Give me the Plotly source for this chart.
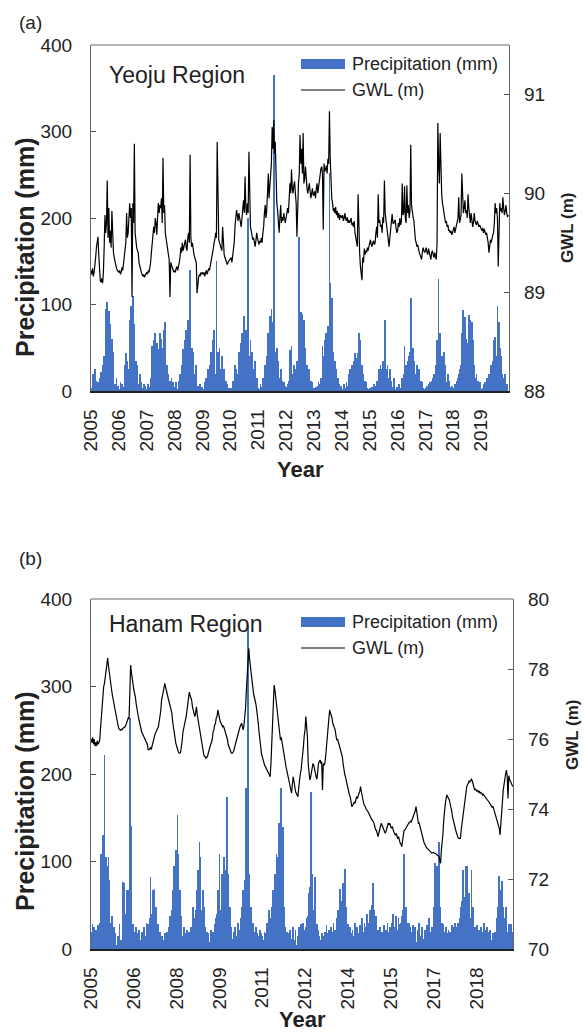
import numpy as np
import pandas as pd
import plotly.graph_objects as go

# ---------------- data ----------------
# time step: 1/36 of a year (about 10 days), starting 2005-01-01
year_labels_a = ["2005", "2006", "2007", "2008", "2009", "2010", "2011", "2012",
                 "2013", "2014", "2015", "2016", "2017", "2018", "2019"]
year_labels_b = ["2005", "2006", "2008", "2009", "2011", "2012", "2014", "2015",
                 "2017", "2018"]

precip_yeoju = [
    3, 0, 2, 20, 4, 25, 0, 12, 5, 10, 0, 15, 3, 22, 5, 30, 8, 40, 15, 95, 20, 103, 10, 93, 25, 78, 8, 60, 5, 45, 0, 8, 2, 15, 0, 6,
    2, 0, 10, 0, 8, 3, 5, 0, 30, 44, 5, 35, 10, 25, 82, 12, 98, 20, 110, 8, 78, 15, 35, 5, 30, 2, 8, 20, 0, 10, 3, 0, 8, 0, 6, 2,
    0, 2, 8, 0, 5, 15, 3, 52, 10, 59, 5, 67, 12, 55, 8, 48, 15, 67, 10, 60, 20, 50, 71, 10, 80, 25, 30, 5, 20, 0, 12, 3, 15, 0, 10, 0,
    5, 0, 10, 0, 2, 12, 0, 20, 5, 30, 10, 48, 8, 59, 15, 71, 12, 82, 20, 45, 140, 10, 50, 15, 45, 5, 20, 8, 30, 0, 6, 0, 4, 8, 0, 5,
    3, 0, 2, 10, 0, 15, 3, 25, 5, 30, 8, 45, 10, 59, 12, 71, 20, 15, 150, 10, 45, 8, 50, 12, 25, 40, 5, 15, 25, 0, 12, 0, 8, 3, 0, 2,
    4, 0, 3, 12, 0, 10, 30, 5, 25, 8, 20, 45, 10, 55, 15, 67, 12, 75, 87, 20, 70, 10, 55, 200, 15, 40, 59, 8, 45, 5, 25, 0, 35, 3, 15, 0,
    3, 0, 2, 8, 0, 5, 15, 3, 10, 30, 5, 40, 8, 67, 15, 87, 10, 95, 80, 15, 365, 85, 10, 45, 50, 8, 35, 5, 15, 25, 0, 12, 3, 10, 0, 6,
    5, 0, 8, 0, 12, 47, 3, 52, 5, 20, 30, 3, 25, 8, 35, 10, 28, 178, 15, 91, 20, 89, 10, 82, 15, 50, 5, 30, 8, 15, 25, 0, 12, 0, 10, 3,
    3, 0, 2, 5, 0, 6, 10, 3, 8, 15, 5, 52, 10, 40, 59, 8, 67, 12, 75, 20, 252, 125, 15, 108, 10, 45, 8, 35, 5, 25, 0, 15, 3, 8, 0, 6,
    2, 0, 3, 8, 0, 4, 10, 0, 6, 20, 3, 25, 5, 30, 8, 35, 10, 44, 8, 38, 15, 44, 67, 10, 59, 5, 30, 3, 20, 0, 12, 0, 10, 3, 0, 2,
    3, 0, 2, 5, 0, 4, 8, 0, 6, 12, 3, 10, 25, 5, 30, 8, 25, 35, 10, 30, 82, 12, 25, 30, 5, 15, 25, 0, 12, 5, 0, 15, 4, 0, 2, 5,
    2, 0, 8, 3, 0, 6, 15, 0, 20, 52, 5, 30, 8, 35, 40, 10, 45, 108, 15, 40, 50, 8, 35, 5, 20, 30, 3, 10, 25, 0, 12, 0, 10, 3, 0, 2,
    3, 0, 6, 0, 8, 0, 10, 3, 12, 0, 15, 20, 5, 25, 30, 59, 10, 130, 50, 67, 15, 40, 30, 8, 45, 20, 30, 5, 10, 20, 0, 12, 5, 0, 6, 2,
    4, 0, 8, 0, 12, 3, 15, 20, 5, 25, 30, 67, 10, 94, 15, 85, 8, 60, 55, 12, 88, 20, 82, 10, 80, 8, 59, 30, 5, 15, 20, 0, 12, 3, 10, 0,
    2, 0, 3, 8, 0, 10, 3, 12, 15, 0, 20, 5, 25, 30, 5, 35, 59, 8, 62, 40, 10, 98, 15, 80, 50, 8, 40, 20, 5, 15, 10, 20, 0, 8, 3, 0,
]

gwl_yeoju = [
    89.22, 89.18, 89.24, 89.16, 89.2, 89.26, 89.35, 89.45, 89.5, 89.56, 89.38, 89.2, 89.12, 89.1, 89.14, 89.09, 89.2, 89.45, 89.78, 89.6, 89.7, 90.13, 89.55, 89.85, 89.5, 89.62, 89.45, 89.82, 89.48, 89.4, 89.35, 89.3, 89.26, 89.24, 89.22, 89.2,
    89.2, 89.22, 89.18, 89.2, 89.25, 89.22, 89.3, 89.35, 89.4, 89.5, 89.8, 89.55, 89.6, 89.88, 89.9, 89.75, 89.85, 88.95, 89.9, 89.7, 90.5, 89.6, 89.5, 89.45, 89.42, 89.4, 89.3, 89.26, 89.22, 89.2, 89.18, 89.16, 89.18, 89.15, 89.17, 89.2,
    89.2, 89.18, 89.22, 89.2, 89.24, 89.3, 89.4, 89.5, 89.56, 89.66, 89.6, 89.75, 89.7, 89.58, 89.75, 89.9, 89.8, 89.88, 89.85, 89.95, 89.7, 90.36, 89.8, 89.88, 89.6, 89.53, 89.48, 89.42, 89.38, 89.33, 88.95, 89.3, 89.28, 89.25, 89.22, 89.2,
    89.22, 89.2, 89.24, 89.26, 89.22, 89.25, 89.3, 89.35, 89.45, 89.4, 89.5, 89.42, 89.46, 89.5, 89.53, 89.45, 89.42, 89.55, 89.6, 89.5, 90.39, 89.55, 89.46, 89.5, 89.4, 89.38, 89.35, 89.33, 89.3, 88.99, 89.12, 89.15, 89.18, 89.16, 89.2, 89.18,
    89.2, 89.18, 89.2, 89.16, 89.2, 89.22, 89.18, 89.2, 89.24, 89.22, 89.26, 89.3, 89.33, 89.38, 89.44, 89.5, 89.53, 89.6, 89.55, 90.52, 89.58, 89.53, 89.5, 89.48, 89.45, 89.42, 89.66, 89.4, 89.38, 89.35, 89.33, 89.3, 89.28, 89.3, 89.32, 89.33,
    89.33, 89.35, 89.3, 89.36, 89.4, 89.5, 89.66, 89.75, 89.83, 89.78, 89.72, 89.8, 89.76, 89.7, 89.66, 89.75, 89.85, 89.93, 89.8, 90.17, 89.85, 89.78, 89.9, 89.8, 90.42, 89.75, 89.66, 89.62, 89.58, 89.53, 89.55, 89.5, 89.46, 89.52, 89.6, 89.55,
    89.5, 89.48, 89.52, 89.5, 89.55, 89.5, 89.6, 89.66, 89.8, 89.88, 89.75, 89.83, 90.0, 90.2, 89.95, 90.05, 90.15, 90.3, 90.67, 90.45, 90.74, 90.4, 90.52, 90.0, 89.9, 89.83, 89.7, 89.6, 89.75, 89.88, 89.7, 89.76, 89.72, 89.8, 89.75, 89.7,
    89.75, 89.8, 89.85, 89.8, 89.95, 90.1, 90.0, 90.24, 90.05, 90.0, 90.08, 90.12, 90.0, 89.9, 89.56, 89.95, 90.1, 90.2, 90.59, 90.3, 90.45, 90.2, 90.61, 90.1, 90.15, 90.27, 90.1, 90.05, 90.0, 90.08, 90.1, 90.02, 89.95, 90.0, 90.05, 89.98,
    89.98, 90.02, 89.95, 90.05, 90.1, 90.0, 90.08, 90.15, 90.2, 90.25, 90.27, 90.2, 89.63, 90.3, 90.22, 90.25, 90.28, 90.2, 90.35, 90.3, 90.83, 90.35, 90.1, 89.95, 89.9, 89.82, 89.85, 89.8, 89.86, 89.78, 89.82, 89.75, 89.8, 89.73, 89.78, 89.75,
    89.75, 89.78, 89.72, 89.75, 89.8, 89.74, 89.72, 89.76, 89.7, 89.73, 89.7, 89.72, 89.75, 89.68, 89.7, 89.66, 89.72, 89.6, 89.55, 89.53, 89.46, 89.99, 89.5, 89.4, 89.26, 89.19, 89.12, 89.35, 89.3, 89.44, 89.38, 89.42, 89.4, 89.45, 89.42, 89.46,
    89.5, 89.53, 89.48, 89.46, 89.5, 89.52, 89.48, 89.5, 89.6, 89.66, 89.55, 89.99, 89.7, 89.73, 89.66, 89.68, 89.6, 89.76, 89.7, 90.13, 89.8, 89.73, 89.65, 89.6, 89.5, 89.46, 89.55, 89.66, 89.72, 89.79, 89.7, 89.69, 89.72, 89.73, 89.65, 89.6,
    89.62, 89.7, 89.66, 89.75, 89.68, 89.72, 90.1, 89.78, 89.8, 90.07, 89.75, 89.7, 90.08, 89.8, 89.88, 89.75, 89.82, 90.49, 89.88, 89.8, 89.76, 89.73, 89.6, 89.53, 89.5, 89.46, 89.48, 89.42, 89.4, 89.38, 89.35, 89.33, 89.4, 89.45, 89.42, 89.4,
    89.42, 89.45, 89.4, 89.38, 89.44, 89.4, 89.36, 89.33, 89.4, 89.42, 89.38, 89.35, 89.4, 89.36, 89.33, 89.5, 90.71, 90.3, 90.1, 90.61, 90.2, 89.99, 89.9, 89.85, 89.8, 89.73, 89.7, 89.72, 89.66, 89.68, 89.62, 89.63, 89.6, 89.62, 89.58, 89.6,
    89.62, 89.66, 89.6, 89.64, 89.68, 89.7, 89.75, 89.96, 89.7, 89.73, 89.78, 90.2, 89.85, 89.8, 89.85, 89.93, 89.8, 89.83, 89.75, 89.99, 89.85, 89.73, 89.7, 89.8, 89.72, 89.66, 89.7, 89.8, 89.72, 89.7, 89.68, 89.72, 89.7, 89.66, 89.68, 89.66,
    89.66, 89.62, 89.65, 89.6, 89.64, 89.62, 89.58, 89.6, 89.55, 89.5, 89.4, 89.45, 89.53, 89.5, 89.55, 89.58, 89.6, 89.7, 89.9, 89.8, 89.85, 89.75, 89.26, 89.8, 89.9, 89.82, 89.85, 89.8, 89.96, 89.85, 89.78, 89.82, 89.88, 89.8, 89.76, 89.78,
]

precip_hanam = [
    20, 3, 29, 5, 25, 0, 22, 8, 10, 28, 5, 30, 105, 109, 15, 130, 45, 222, 100, 105, 20, 95, 105, 79, 12, 30, 38, 5, 15, 25, 0, 18, 3, 5, 15, 0,
    29, 5, 10, 0, 77, 15, 75, 8, 40, 67, 10, 67, 25, 264, 141, 67, 12, 29, 5, 20, 0, 25, 3, 18, 0, 22, 5, 10, 20, 0, 12, 25, 3, 15, 30, 5,
    29, 5, 35, 82, 15, 40, 67, 10, 69, 25, 48, 5, 15, 29, 0, 20, 3, 8, 15, 0, 10, 18, 0, 12, 20, 3, 25, 5, 38, 12, 45, 67, 20, 95, 30, 113,
    80, 153, 109, 25, 67, 12, 38, 5, 15, 25, 0, 18, 3, 22, 0, 15, 20, 3, 25, 10, 35, 48, 8, 35, 45, 67, 15, 90, 30, 122, 105, 20, 45, 67, 15, 48,
    25, 3, 20, 0, 18, 5, 8, 22, 0, 10, 20, 5, 29, 35, 8, 40, 67, 15, 109, 45, 20, 86, 50, 12, 105, 25, 90, 30, 174, 86, 15, 48, 5, 25, 0, 12,
    20, 0, 25, 3, 15, 30, 0, 22, 8, 35, 48, 10, 67, 15, 79, 30, 184, 20, 370, 25, 86, 15, 48, 5, 30, 8, 20, 0, 25, 5, 18, 0, 15, 22, 3, 18,
    15, 3, 10, 20, 0, 18, 30, 5, 22, 45, 8, 35, 48, 12, 67, 20, 86, 25, 109, 30, 105, 144, 86, 25, 184, 30, 140, 48, 15, 25, 5, 20, 0, 18, 3, 22,
    12, 0, 8, 25, 3, 10, 22, 0, 5, 15, 25, 3, 20, 29, 5, 30, 8, 22, 0, 25, 35, 38, 12, 64, 71, 130, 180, 86, 20, 45, 25, 82, 15, 29, 5, 22,
    15, 3, 10, 18, 0, 8, 15, 20, 3, 28, 0, 18, 22, 5, 15, 25, 3, 20, 30, 8, 22, 5, 35, 25, 45, 12, 69, 40, 15, 55, 76, 20, 91, 40, 48, 12,
    29, 5, 15, 25, 0, 18, 22, 3, 15, 30, 0, 20, 25, 3, 18, 28, 5, 22, 35, 0, 20, 30, 5, 25, 40, 8, 30, 22, 45, 12, 50, 15, 76, 45, 10, 20,
    38, 5, 22, 0, 18, 25, 3, 20, 0, 15, 28, 5, 22, 8, 30, 3, 20, 25, 5, 30, 10, 40, 25, 8, 20, 38, 12, 22, 35, 29, 5, 30, 38, 10, 45, 109,
    35, 48, 15, 30, 5, 30, 0, 25, 3, 20, 28, 0, 18, 25, 5, 8, 22, 0, 30, 15, 3, 10, 25, 5, 12, 22, 0, 15, 28, 5, 35, 25, 8, 20, 25, 10,
    48, 20, 98, 30, 95, 67, 15, 122, 25, 48, 10, 30, 29, 5, 20, 0, 25, 3, 18, 22, 0, 20, 5, 28, 0, 25, 8, 30, 22, 10, 25, 30, 12, 35, 48, 15,
    55, 90, 20, 60, 25, 95, 30, 95, 15, 64, 25, 35, 90, 20, 48, 10, 25, 3, 15, 28, 0, 22, 5, 12, 25, 0, 20, 5, 30, 22, 3, 18, 25, 5, 20, 22,
    15, 3, 10, 18, 0, 12, 20, 5, 35, 48, 15, 83, 25, 67, 78, 20, 48, 12, 35, 5, 48, 20, 3, 29, 8, 22, 29, 3, 20,
]

gwl_hanam = [
    76.0, 75.9, 76.05, 75.85, 76.0, 75.8, 75.9, 75.8, 75.95, 75.85, 75.9, 75.97, 76.3, 76.64, 77.0, 77.4, 77.5, 77.59, 77.75, 77.97, 78.1, 78.31, 78.1, 77.88, 77.7, 77.55, 77.4, 77.25, 77.11, 77.0, 76.83, 76.7, 76.6, 76.5, 76.4, 76.3,
    76.26, 76.25, 76.27, 76.26, 76.3, 76.32, 76.35, 76.35, 76.4, 76.45, 76.5, 76.6, 76.58, 77.4, 78.11, 77.9, 77.7, 77.5, 77.4, 77.3, 77.2, 77.0, 76.83, 76.75, 76.6, 76.5, 76.35, 76.3, 76.2, 76.15, 76.07, 76.0, 75.95, 75.92, 75.88, 75.85,
    75.7, 75.69, 75.72, 75.75, 75.7, 75.8, 75.9, 76.0, 76.1, 76.16, 76.2, 76.25, 76.3, 76.35, 76.5, 76.64, 76.8, 77.11, 77.2, 77.3, 77.45, 77.59, 77.45, 77.4, 77.3, 77.2, 77.11, 77.05, 77.0, 76.85, 76.74, 76.5, 76.3, 76.16, 76.0, 75.88,
    75.8, 75.7, 75.65, 75.6, 75.59, 75.62, 75.75, 75.95, 76.2, 76.3, 76.45, 76.55, 76.64, 76.8, 77.0, 77.15, 77.34, 77.25, 77.2, 77.1, 76.92, 76.8, 76.7, 76.64, 76.75, 76.92, 76.7, 76.55, 76.45, 76.35, 76.2, 75.97, 75.8, 75.65, 75.59, 75.5,
    75.5, 75.45, 75.48, 75.5, 75.6, 75.7, 75.78, 75.85, 75.9, 76.0, 76.2, 76.26, 76.4, 76.45, 76.6, 76.64, 76.83, 76.7, 76.55, 76.5, 76.45, 76.4, 76.35, 76.38, 76.3, 76.25, 76.2, 76.1, 76.0, 75.85, 75.78, 75.7, 75.65, 75.6, 75.59, 75.62,
    75.65, 75.75, 75.85, 75.92, 76.0, 76.1, 76.2, 76.3, 76.35, 76.4, 76.45, 76.35, 76.26, 76.4, 76.64, 76.9, 77.4, 77.9, 78.35, 78.59, 78.3, 78.07, 77.8, 77.59, 77.45, 77.3, 77.2, 77.11, 77.0, 76.83, 76.7, 76.45, 76.2, 75.97, 75.8, 75.59,
    75.5, 75.4, 75.3, 75.25, 75.21, 75.15, 75.1, 75.05, 75.02, 74.98, 74.92, 75.3, 76.0, 76.8, 77.3, 77.54, 77.4, 77.2, 77.11, 76.9, 76.7, 76.45, 76.3, 75.97, 76.05, 75.88, 75.75, 75.6, 75.5, 75.35, 75.21, 75.1, 74.92, 74.85, 74.73, 74.6,
    74.55, 74.45, 74.7, 74.92, 74.8, 74.6, 74.5, 74.45, 74.4, 74.35, 74.6, 74.92, 75.0, 75.11, 75.3, 75.5, 75.8, 76.1, 76.26, 76.64, 76.3, 76.07, 75.3, 75.0, 74.83, 74.9, 75.02, 75.2, 75.3, 75.25, 75.1, 75.02, 74.92, 74.85, 75.1, 75.3,
    75.35, 75.4, 75.3, 75.35, 74.54, 75.3, 75.25, 75.3, 75.5, 75.78, 76.1, 76.45, 76.7, 76.83, 76.75, 76.7, 76.6, 76.45, 76.4, 76.3, 76.26, 76.1, 75.97, 76.0, 75.92, 75.85, 75.7, 75.69, 75.6, 75.5, 75.3, 75.11, 75.0, 74.92, 74.8, 74.73,
    74.6, 74.54, 74.4, 74.35, 74.2, 74.07, 74.1, 74.15, 74.2, 74.16, 74.25, 74.35, 74.3, 74.4, 74.45, 74.5, 74.64, 74.5, 74.35, 74.25, 74.16, 74.1, 74.07, 74.0, 73.97, 73.95, 73.9, 73.85, 73.78, 73.75, 73.7, 73.69, 73.65, 73.59, 73.5, 73.4,
    73.4, 73.3, 73.21, 73.3, 73.4, 73.5, 73.59, 73.55, 73.5, 73.45, 73.4, 73.31, 73.35, 73.45, 73.5, 73.6, 73.55, 73.59, 73.5, 73.45, 73.5, 73.4, 73.35, 73.3, 73.25, 73.3, 73.21, 73.15, 73.21, 73.1, 73.02, 73.0, 72.92, 73.1, 73.3, 73.4,
    73.4, 73.45, 73.5, 73.55, 73.59, 73.6, 73.62, 73.65, 73.63, 73.7, 73.75, 73.78, 73.85, 73.95, 74.07, 73.9, 73.8, 73.59, 73.6, 73.5, 73.4, 73.3, 73.21, 73.15, 73.05, 73.0, 72.92, 72.9, 72.88, 72.85, 72.83, 72.8, 72.78, 72.76, 72.74, 72.75,
    72.76, 72.74, 72.74, 72.72, 72.7, 72.69, 72.66, 72.64, 72.56, 72.45, 72.83, 73.0, 73.3, 73.7, 74.0, 74.16, 74.3, 74.4, 74.35, 74.3, 74.26, 74.15, 74.07, 73.95, 73.78, 73.65, 73.59, 73.5, 73.4, 73.3, 73.21, 73.18, 73.16, 73.15, 73.16, 73.4,
    73.59, 73.8, 73.97, 74.15, 74.35, 74.5, 74.64, 74.7, 74.73, 74.8, 74.78, 74.82, 74.85, 74.8, 74.7, 74.62, 74.54, 74.58, 74.55, 74.5, 74.54, 74.48, 74.5, 74.45, 74.47, 74.45, 74.4, 74.42, 74.38, 74.35, 74.33, 74.3, 74.28, 74.26, 74.2, 74.16,
    74.12, 74.1, 74.05, 74.08, 74.0, 73.95, 73.9, 73.82, 73.75, 73.68, 73.59, 73.45, 73.26, 73.5, 73.9, 74.2, 74.54, 74.75, 74.9, 75.0, 75.11, 74.95, 74.3, 74.95, 74.85, 74.8, 74.72, 74.68, 74.64,
]

# ---------------- time axis ----------------
START = pd.Timestamp("2005-01-01")
STEP_DAYS = 365.25 / 36


def time_index(n):
    return START + pd.to_timedelta(np.arange(n) * STEP_DAYS, unit="D")


dates_a = time_index(len(precip_yeoju))
dates_a_gwl = time_index(len(gwl_yeoju))
dates_b = time_index(len(precip_hanam))
dates_b_gwl = time_index(len(gwl_hanam))

ticks_a = [pd.Timestamp(f"{y}-01-01") for y in year_labels_a]
ticks_b = [START + pd.Timedelta(days=548 * k) for k in range(len(year_labels_b))]

# ---------------- figure ----------------
W, H = 586, 1032
FONT = "Liberation Sans, Arial, Helvetica, sans-serif"
BLUE = "#4472C4"
TXT = "#222222"


def px(x):
    return x / W


def py(y):
    return 1 - y / H


fig = go.Figure()
fig.add_trace(go.Bar(x=dates_a, y=precip_yeoju, marker=dict(color=BLUE, line=dict(width=0)),
                     xaxis="x", yaxis="y", name="Precipitation (mm)"))
fig.add_trace(go.Scatter(x=dates_a_gwl, y=gwl_yeoju, mode="lines", line=dict(color="black", width=1.2),
                         xaxis="x", yaxis="y2", name="GWL (m)"))
fig.add_trace(go.Bar(x=dates_b, y=precip_hanam, marker=dict(color=BLUE, line=dict(width=0)),
                     xaxis="x2", yaxis="y3", name="Precipitation (mm)"))
fig.add_trace(go.Scatter(x=dates_b_gwl, y=gwl_hanam, mode="lines", line=dict(color="black", width=1.2),
                         xaxis="x2", yaxis="y4", name="GWL (m)"))

# plot-area edges (px)
A_L, A_R, A_T, A_B = 91, 509, 45, 391
B_L, B_R, B_T, B_B = 91, 513, 599, 949

tickfont = dict(family=FONT, size=19, color=TXT)

xcommon = dict(type="date", tickmode="array", tickangle=-90, ticks="", showline=True,
               linecolor="#222222", linewidth=1.5, showgrid=False, zeroline=False,
               tickfont=tickfont, ticklabelstandoff=9, automargin=False)
ycommon = dict(ticks="inside", ticklen=5, tickcolor="#555555", showgrid=False, zeroline=False,
               tickfont=tickfont, automargin=False)

fig.update_layout(
    width=W, height=H, margin=dict(l=0, r=0, t=0, b=0),
    paper_bgcolor="white", plot_bgcolor="white", showlegend=False, bargap=0,
    font=dict(family=FONT, size=19, color=TXT),
    xaxis=dict(domain=[px(A_L), px(A_R)], anchor="y", range=["2005-01-01", "2020-01-01"],
               tickvals=ticks_a, ticktext=year_labels_a, **xcommon),
    yaxis=dict(domain=[py(A_B), py(A_T)], anchor="x", range=[0, 400], tickvals=[0, 100, 200, 300, 400],
               showline=True, mirror=True, linecolor="#666666", linewidth=1, ticklabelstandoff=14, **ycommon),
    yaxis2=dict(overlaying="y", side="right", anchor="x", range=[88, 91.5], tickvals=[88, 89, 90, 91],
                showline=False, ticklabelstandoff=14, **ycommon),
    xaxis2=dict(domain=[px(B_L), px(B_R)], anchor="y3", range=["2005-01-01", "2019-10-16"],
                tickvals=ticks_b, ticktext=year_labels_b, **xcommon),
    yaxis3=dict(domain=[py(B_B), py(B_T)], anchor="x2", range=[0, 400], tickvals=[0, 100, 200, 300, 400],
                showline=True, mirror=True, linecolor="#666666", linewidth=1, ticklabelstandoff=14, **ycommon),
    yaxis4=dict(overlaying="y3", side="right", anchor="x2", range=[70, 80], tickvals=[70, 72, 74, 76, 78, 80],
                showline=False, ticklabelstandoff=14, **ycommon),
)

shapes = []
annotations = []


def add_text(text, x, y, size, bold=False, angle=0, xanchor="center"):
    annotations.append(dict(text=text, x=px(x), y=py(y), xref="paper", yref="paper",
                            xanchor=xanchor, yanchor="middle", showarrow=False, textangle=angle,
                            font=dict(family=FONT, size=size, color=TXT,
                                      weight="bold" if bold else "normal")))


for (L, R, T, B, label, region, lab_y, reg_y, leg_y, gwl_title_x, gwl_title_y, prec_title_y, year_y) in [
    (A_L, A_R, A_T, A_B, "(a)", "Yeoju Region", 22, 75, 64, 568, 228, 248, 470),
    (B_L, B_R, B_T, B_B, "(b)", "Hanam Region", 558, 624, 622, 572, 735, 802, 1019),
]:
    # top border of the frame
    shapes.append(dict(type="line", xref="paper", yref="paper", x0=px(L), x1=px(R), y0=py(T), y1=py(T),
                       line=dict(color="#666666", width=1)))
    # legend keys
    shapes.append(dict(type="rect", xref="paper", yref="paper", x0=px(301), x1=px(345),
                       y0=py(leg_y + 5), y1=py(leg_y - 5), fillcolor=BLUE, line=dict(width=0)))
    shapes.append(dict(type="line", xref="paper", yref="paper", x0=px(301), x1=px(345),
                       y0=py(leg_y + 26), y1=py(leg_y + 26), line=dict(color="black", width=1)))
    add_text("Precipitation (mm)", 350, leg_y, 18, xanchor="left")
    add_text("GWL (m)", 350, leg_y + 26, 18, xanchor="left")
    add_text(label, 17, lab_y, 19, xanchor="left")
    add_text(region, L + 16, reg_y, 23, xanchor="left")
    add_text("Precipitation (mm)", 25, prec_title_y, 25, bold=True, angle=-90)
    add_text("GWL (m)", gwl_title_x, gwl_title_y, 17, bold=True, angle=-90)
    add_text("Year", (L + R) / 2, year_y, 22, bold=True)

fig.update_layout(shapes=shapes, annotations=annotations)

fig.write_html("out.html")
